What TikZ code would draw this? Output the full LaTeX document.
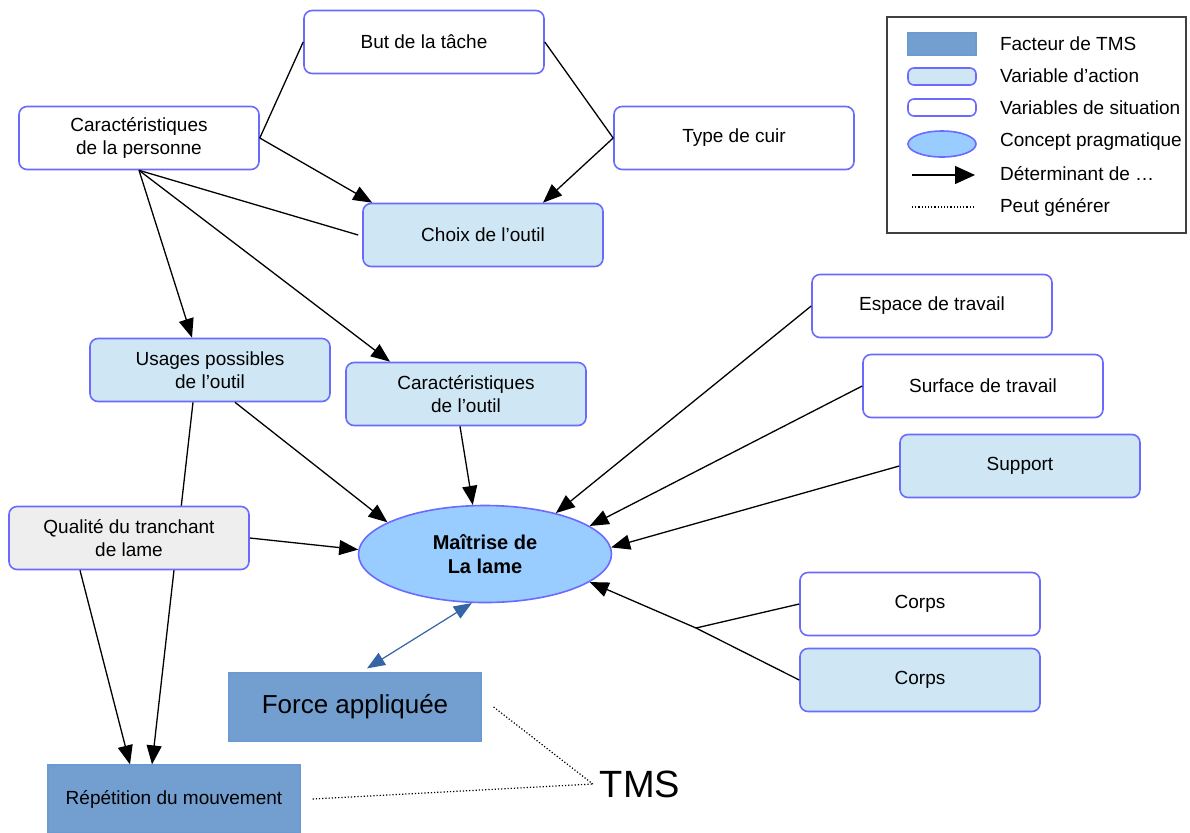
\documentclass[tikz,border=0pt]{standalone}
\usepackage{fontspec}
\setmainfont{Liberation Sans}
\usepackage{xcolor}
\usetikzlibrary{shapes.geometric,arrows.meta}
\definecolor{situborder}{HTML}{6A6AFF}
\definecolor{actionfill}{HTML}{CFE7F5}
\definecolor{qualfill}{HTML}{EEEEEE}
\definecolor{conceptfill}{HTML}{99CCFF}
\definecolor{tmsfill}{HTML}{729FCF}
\definecolor{tmsborder}{HTML}{6C9BD2}
\definecolor{linkblue}{HTML}{3465A4}

\begin{document}
\begin{tikzpicture}[x=0.5pt,y=-0.5pt,
  font=\fontsize{9.5pt}{11.5pt}\selectfont,
  situation/.style={draw=situborder,line width=0.8pt,fill=white,rounded corners=4pt,minimum width=120pt,minimum height=31.5pt,align=center,inner sep=2pt},
  action/.style={situation,fill=actionfill},
  facteur/.style={draw=tmsborder,line width=0.6pt,fill=tmsfill,minimum width=126pt,minimum height=34pt,inner sep=2pt},
  concept/.style={ellipse,draw=situborder,line width=0.8pt,fill=conceptfill,minimum width=126.5pt,minimum height=48.5pt,inner sep=0pt,align=center},
  determine/.style={-{Triangle[length=9.5pt,width=7.5pt]},line width=0.65pt},
  lien/.style={line width=0.65pt},
  genere/.style={densely dotted,line width=0.6pt}]
\useasboundingbox (0,0) rectangle (1190,832);
\node[situation] (but) at (424,42) {But de la tâche};
\node[situation] (pers) at (139,138) {Caractéristiques\\de la personne};
\node[situation] (cuir) at (734,138) {Type de cuir};
\node[action] (choix) at (483,235) {Choix de l’outil};
\node[action] (usages) at (210,370) {Usages possibles\\de l’outil};
\node[action] (outil) at (466,394) {Caractéristiques\\de l’outil};
\node[concept,font=\fontsize{10pt}{12pt}\selectfont\bfseries] (maitrise) at (485,554) {Maîtrise de\\La lame};
\node[situation] (espace) at (932,306) {Espace de travail};
\node[situation] (surface) at (983,386) {Surface de travail};
\node[action] (support) at (1020,466) {Support};
\node[situation] (corps) at (920,604) {Corps};
\node[action] (corpsb) at (920,680) {Corps};
\node[facteur,font=\fontsize{13pt}{15pt}\selectfont] (force) at (355,707) {Force appliquée};
\node[facteur] (repet) at (174,799) {Répétition du mouvement};
\node[font=\fontsize{19pt}{22pt}\selectfont] (tms) at (640,784) {TMS};
\coordinate (jonction) at (696,628);
% passes behind the qualite box
\draw[determine] ([xshift=-8.5pt]usages.south) -- ([xshift=-11pt]repet.north);
\node[action,fill=qualfill] (qualite) at (129,538) {Qualité du tranchant\\de lame};
\draw[lien] (pers.east) -- (but.west);
\draw[lien] (but.east) -- (cuir.west);
\draw[determine] (pers.east) -- ([xshift=5pt]choix.north west);
\draw[determine] (cuir.west) -- ([xshift=30pt]choix.north);
\draw[lien] (pers.south) -- ([xshift=-2pt]choix.west);
\draw[determine] (pers.south) -- ([xshift=-9pt]usages.north);
\draw[determine] (pers.south) -- ([xshift=-38pt]outil.north);
\draw[determine] ([xshift=12.5pt]usages.south) -- (maitrise.162);
\draw[determine] ([xshift=-3pt]outil.south) -- (maitrise.104);
\draw[determine] (qualite.east) -- (maitrise.178);
\draw[determine] ([xshift=-24.5pt]qualite.south) -- ([xshift=-22pt]repet.north);
\draw[determine] (espace.west) -- (maitrise.30);
\draw[determine] (surface.west) -- (maitrise.15);
\draw[determine] (support.west) -- (maitrise.3);
\draw[lien] (corps.west) -- (jonction);
\draw[lien] (corpsb.west) -- (jonction);
\draw[determine] (jonction) -- (maitrise.345);
\draw[{Triangle[length=9pt,width=7pt]}-{Triangle[length=9pt,width=7pt]},draw=linkblue,fill=linkblue,line width=0.6pt] ([shift={(6pt,2pt)}]force.north) -- (maitrise.255);
\draw[genere] ([xshift=6pt]force.east) -- (tms.west);
\draw[genere] ([xshift=6pt]repet.east) -- (tms.west);
% legende
\node[draw=black!75,line width=0.8pt,minimum width=149.5pt,minimum height=108pt] (legende) at (1036.5,125) {};
\node[facteur,minimum width=34pt,minimum height=11pt] (legfacteur) at (942,44) {};
\node[action,minimum width=34pt,minimum height=8.5pt,rounded corners=3pt] (legaction) at (942,76.5) {};
\node[situation,minimum width=34pt,minimum height=8.5pt,rounded corners=3pt] (legsitu) at (942,107.5) {};
\node[concept,minimum width=34pt,minimum height=13pt] (legconcept) at (942,144) {};
\coordinate (legdeb) at (912,175);
\coordinate (legfin) at (975,175);
\coordinate (legdeb2) at (912,207);
\coordinate (legfin2) at (975,207);
\draw[-{Triangle[length=10pt,width=9pt]},line width=0.6pt] (legdeb) -- (legfin);
\draw[genere] (legdeb2) -- (legfin2);
\node[anchor=west] (txtfacteur) at (993,44) {Facteur de TMS};
\node[anchor=west] (txtaction) at (993,76) {Variable d’action};
\node[anchor=west] (txtsitu) at (993,108) {Variables de situation};
\node[anchor=west] (txtconcept) at (993,142) {Concept pragmatique};
\node[anchor=west] (txtdeterm) at (993,174) {Déterminant de …};
\node[anchor=west] (txtgenere) at (993,207) {Peut générer};
\end{tikzpicture}
\end{document}
